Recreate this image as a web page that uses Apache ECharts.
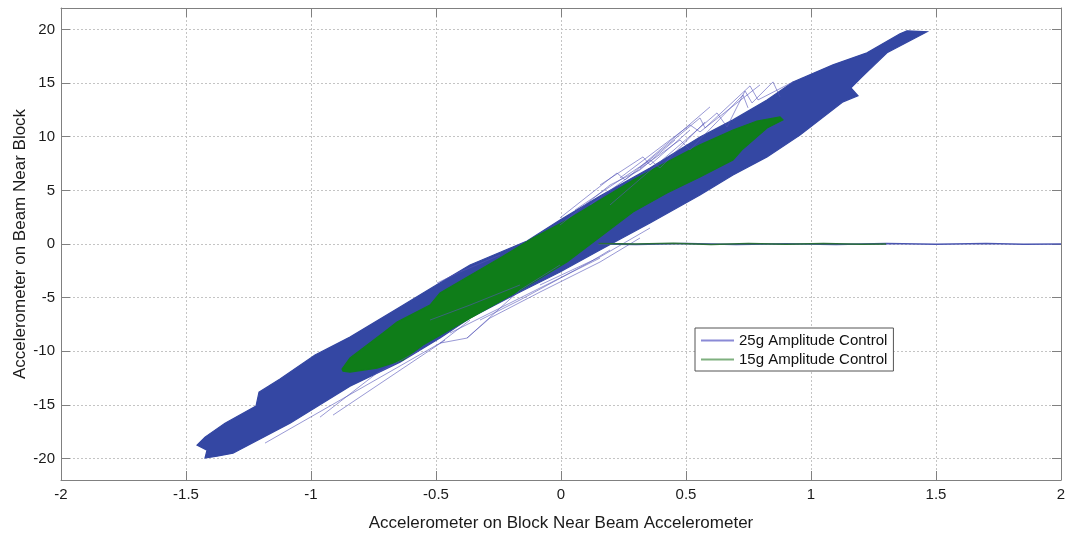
<!DOCTYPE html>
<html>
<head>
<meta charset="utf-8">
<script src="https://cdn.jsdelivr.net/npm/echarts@6/dist/echarts.min.js"></script>
<style>
html,body{margin:0;padding:0;background:#fff;}
#chart{width:1066px;height:533px;}
</style>
</head>
<body>
<div id="chart"></div>
<script>
// ---- data ----
const xTicks = [-2, -1.5, -1, -0.5, 0, 0.5, 1, 1.5, 2];
const yTicks = [-20, -15, -10, -5, 0, 5, 10, 15, 20];

// outline of the dense 25g trajectory cloud
const blueEnvelope = [
  [-1.456,-18.75],[-1.424,-18.00],[-1.344,-16.70],[-1.220,-15.11],[-1.208,-13.81],
  [-1.124,-12.59],[-0.984,-10.35],[-0.844,-8.68],[-0.644,-5.88],[-0.512,-4.01],
  [-0.364,-1.96],[-0.136,0.28],[-0.004,2.24],[0.156,4.48],[0.356,7.09],
  [0.556,9.98],[0.688,11.57],[0.824,13.43],[0.928,15.11],[1.088,16.70],
  [1.224,17.82],[1.356,19.59],[1.384,19.87],[1.464,19.78],
  [1.304,17.82],[1.204,15.58],[1.160,14.55],[1.188,13.81],[1.128,13.25],
  [0.956,10.17],[0.824,8.12],[0.688,6.44],[0.556,4.57],[0.356,1.96],
  [0.156,-0.56],[-0.004,-2.61],[-0.164,-4.48],[-0.364,-6.90],[-0.484,-8.77],
  [-0.644,-11.01],[-0.844,-13.25],[-1.084,-16.70],[-1.312,-19.50],[-1.376,-19.78],
  [-1.424,-19.96],[-1.416,-19.22]
];

// outline of the dense 15g trajectory cloud
const greenEnvelope = [
  [-0.876,-11.66],[-0.844,-10.63],[-0.712,-8.30],[-0.656,-7.28],[-0.524,-5.69],
  [-0.484,-4.57],[-0.244,-1.31],[-0.112,0.56],[0.024,2.24],[0.156,4.10],
  [0.288,5.97],[0.424,7.65],[0.556,9.24],[0.688,10.63],[0.784,11.47],
  [0.876,11.85],[0.888,11.57],[0.824,10.82],[0.724,8.77],[0.688,7.84],
  [0.556,6.25],[0.424,4.76],[0.288,2.99],[0.156,0.65],[0.024,-1.68],
  [-0.176,-4.48],[-0.376,-7.09],[-0.552,-9.42],[-0.632,-10.82],[-0.736,-11.57],
  [-0.844,-11.94],[-0.872,-11.85]
];

// stray 25g trajectories outside the dense cloud
const blueStray1 = [[0.196,3.64],[0.624,12.22],[0.664,10.91],[0.736,14.27],[0.764,13.15],[0.848,15.11],[0.876,13.71]];
const blueStray2 = [[0.316,7.09],[0.556,11.75],[0.576,10.82],[0.756,14.74],[0.788,13.43],[0.928,15.11]];
const blueStray3 = [[0.156,5.50],[0.328,8.12],[0.356,7.37],[0.516,10.63]];
const blueStray4 = [[-0.004,2.43],[0.224,6.62],[0.256,5.97],[0.596,12.78]];
const blueStray5 = [[-0.484,-9.24],[-0.376,-8.77],[-0.164,-4.29],[-0.004,-1.96]];
const blueStray6 = [[-1.184,-18.56],[-0.484,-9.24],[-0.364,-7.09]];
const blueStray7 = [[-0.964,-16.14],[-0.736,-12.03],[-0.564,-9.89]];
const blueStray8 = [[-0.912,-15.95],[-0.464,-8.96]];
const blueStray9 = [[-0.496,-3.64],[-0.404,-2.61],[-0.244,-1.03]];
const blueStray10 = [[-0.324,-7.09],[-0.164,-5.22],[0.116,-1.68],[0.196,-0.56]];
const blueStray11 = [[-0.084,-3.82],[0.156,-1.21],[0.356,1.49]];
const blueStray12 = [[0.116,3.64],[0.476,9.70],[0.516,8.77],[0.728,13.90],[0.748,12.69]];
const blueStray13 = [[0.236,6.16],[0.516,11.10],[0.556,10.45],[0.796,14.83]];
const blueStray14 = [[0.056,3.17],[0.356,7.84],[0.396,7.09],[0.576,11.38]];
const blueStray15 = [[-0.004,1.77],[0.196,5.50],[0.316,6.90],[0.456,9.70]];
const blueStray16 = [[-0.444,-8.30],[-0.244,-5.97],[-0.004,-3.17],[0.156,-1.31]];
const blueStray17 = [[-0.376,-8.77],[-0.284,-6.90],[-0.084,-4.48],[0.156,-1.68],[0.316,0.56]];
const blueStray18 = [[-0.524,-7.09],[-0.364,-5.69],[-0.164,-3.82]];

// flat (beam) trace near zero
const blueFlat = [[0.15,0.0],[0.3,-0.05],[0.5,0.05],[0.7,-0.05],[0.9,0.03],[1.1,-0.04],[1.3,0.05],[1.5,-0.03],[1.7,0.04],[1.85,-0.02],[2.0,0.0]];
const greenFlat = [[0.15,0.05],[0.3,0.0],[0.45,0.06],[0.6,-0.04],[0.75,0.05],[0.9,-0.03],[1.05,0.04],[1.2,-0.03],[1.3,0.0]];

const seriesNames = ['25g Amplitude Control', '15g Amplitude Control'];

// ---- styling ----
const BLUE = '#3447a3';
const GREEN = '#0f7d19';
const STRAY = 'rgba(85,85,185,0.6)';
const FONT = '"Liberation Sans", Arial, sans-serif';

function polygonSeries(points, color) {
  return {
    type: 'custom',
    silent: true,
    clip: true,
    data: points,
    encode: {x: 0, y: 1},
    renderItem: function (params, api) {
      if (params.dataIndex !== 0) return null;
      const pts = points.map(function (p) { return api.coord(p); });
      return {
        type: 'polygon',
        shape: {points: pts},
        style: {fill: color, stroke: color, lineWidth: 1.2}
      };
    }
  };
}

function lineSeries(data, color, width) {
  return {
    type: 'line',
    data: data,
    symbol: 'none',
    silent: true,
    animation: false,
    lineStyle: {color: color, width: width}
  };
}

const strays = [blueStray1, blueStray2, blueStray3, blueStray4, blueStray5, blueStray6,
  blueStray7, blueStray8, blueStray9, blueStray10, blueStray11, blueStray12, blueStray13,
  blueStray14, blueStray15, blueStray16, blueStray17, blueStray18];

const series = [];
series.push(polygonSeries(blueEnvelope, BLUE));
strays.forEach(function (s) { series.push(lineSeries(s, STRAY, 1)); });
series.push(lineSeries(blueFlat, '#4a55b0', 1.5));
series.push(polygonSeries(greenEnvelope, GREEN));
series.push(lineSeries(greenFlat, '#2a6e3a', 1.5));
// legend entries
series.push({type: 'line', name: seriesNames[0], data: [], symbol: 'none', lineStyle: {color: '#8a8ad6', width: 1}, itemStyle: {color: '#8a8ad6'}});
series.push({type: 'line', name: seriesNames[1], data: [], symbol: 'none', lineStyle: {color: '#7fb07f', width: 1}, itemStyle: {color: '#7fb07f'}});

const axisLineStyle = {color: '#808080', width: 1};
const gridLine = {show: true, lineStyle: {color: '#c4c4c4', type: [2, 2], width: 1}};

const option = {
  animation: false,
  backgroundColor: '#ffffff',
  grid: {left: 61, right: 5, top: 8, bottom: 53, containLabel: false, outerBoundsMode: 'none'},
  legend: {
    data: seriesNames,
    orient: 'vertical',
    left: 695,
    top: 328,
    padding: [5, 6, 4, 5],
    itemGap: 4,
    itemWidth: 33,
    itemHeight: 14,
    borderColor: '#555',
    borderWidth: 1,
    backgroundColor: '#fff',
    itemStyle: {opacity: 0},
    textStyle: {fontFamily: FONT, fontSize: 15, color: '#111'}
  },
  xAxis: [{
    type: 'value', min: -2, max: 2, interval: 0.5,
    axisLine: {show: true, onZero: false, lineStyle: axisLineStyle},
    axisTick: {show: true, inside: true, length: 9, lineStyle: axisLineStyle},
    axisLabel: {fontFamily: FONT, fontSize: 15, color: '#1a1a1a', margin: 7},
    splitLine: gridLine,
    name: 'Accelerometer on Block Near Beam Accelerometer',
    nameLocation: 'middle',
    nameGap: 35,
    nameMoveOverlap: false,
    nameTextStyle: {fontFamily: FONT, fontSize: 17, color: '#1a1a1a'}
  }, {
    type: 'value', min: -2, max: 2, interval: 0.5, position: 'top',
    axisLine: {show: true, onZero: false, lineStyle: axisLineStyle},
    axisTick: {show: true, inside: true, length: 9, lineStyle: axisLineStyle},
    axisLabel: {show: false},
    splitLine: {show: false}
  }],
  yAxis: [{
    type: 'value', min: -22, max: 22,
    axisLine: {show: true, onZero: false, lineStyle: axisLineStyle},
    axisTick: {show: true, inside: true, length: 9, lineStyle: axisLineStyle, customValues: yTicks},
    axisLabel: {fontFamily: FONT, fontSize: 15, color: '#1a1a1a', margin: 6, customValues: yTicks},
    splitLine: gridLine,
    name: 'Accelerometer on Beam Near Block',
    nameLocation: 'middle',
    nameGap: 32,
    nameMoveOverlap: false,
    nameTextStyle: {fontFamily: FONT, fontSize: 17, color: '#1a1a1a'}
  }, {
    type: 'value', min: -22, max: 22, position: 'right',
    axisLine: {show: true, onZero: false, lineStyle: axisLineStyle},
    axisTick: {show: true, inside: true, length: 9, lineStyle: axisLineStyle, customValues: yTicks},
    axisLabel: {show: false, customValues: yTicks},
    splitLine: {show: false}
  }],
  series: series
};

const chart = echarts.init(document.getElementById('chart'), null, {renderer: 'canvas'});
chart.setOption(option);
</script>
</body>
</html>
